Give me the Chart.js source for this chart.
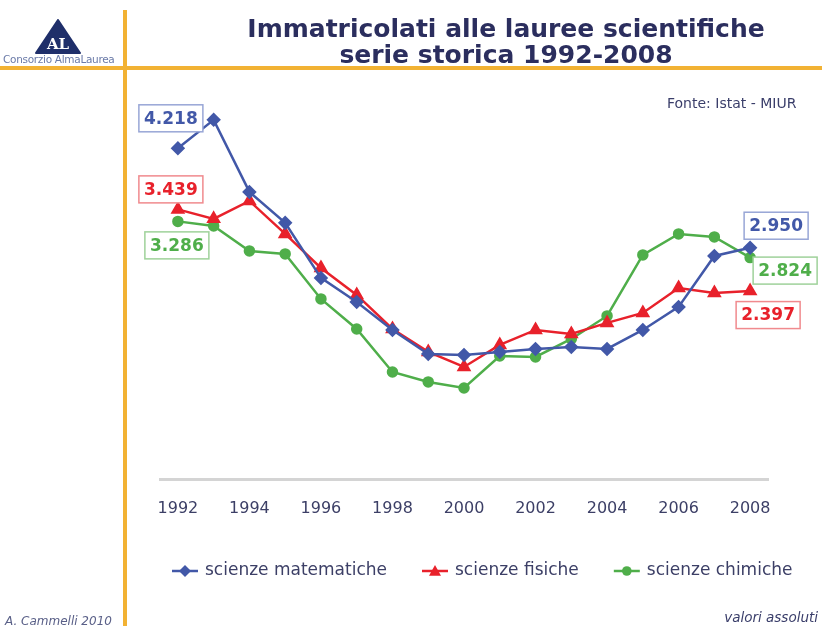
<!DOCTYPE html>
<html>
<head>
<meta charset="utf-8">
<script src="https://cdn.jsdelivr.net/npm/chart.js@4.4.0/dist/chart.umd.min.js"></script>
<style>
  html, body { margin: 0; padding: 0; background: #fff; }
  #wrap { position: relative; width: 822px; height: 626px; overflow: hidden; font-family: "DejaVu Sans", Verdana, sans-serif; }
  #chart { position: absolute; left: 0; top: 0; }
  .vline { position: absolute; left: 123px; top: 10px; width: 4px; height: 616px; background: #f2b233; }
  .hline { position: absolute; left: 0; top: 66px; width: 822px; height: 4px; background: #f2b233; }
  .title { position: absolute; left: 130px; width: 752px; top: 16px; text-align: center; color: #2b2e5e;
           font-weight: bold; font-size: 25px; line-height: 26px; }
  .src { position: absolute; left: 667px; top: 95px; font-size: 14px; color: #3a3e6a; }
  .foot-r { position: absolute; right: 4px; top: 609px; font-size: 13.5px; font-style: italic; color: #3a3e6a; }
  .foot-l { position: absolute; left: 5px; top: 614px; font-size: 12px; font-style: italic; color: #5a6088; }
  .logo-t { position: absolute; left: 3px; top: 53px; font-size: 10.5px; color: #6a7aa8; letter-spacing: -0.3px; }
  svg.logo { position: absolute; left: 35px; top: 19px; }
</style>
</head>
<body>
<div id="wrap">
  <canvas id="chart" width="822" height="626"></canvas>
  <div class="vline"></div>
  <div class="hline"></div>
  <svg class="logo" width="46" height="35" viewBox="0 0 46 35">
    <path d="M23 1 L45 34 L1 34 Z" fill="#1f2f6a" stroke="#1f2f6a" stroke-linejoin="round" stroke-width="2"/>
    <text x="23" y="30" text-anchor="middle" font-family="DejaVu Serif, serif" font-weight="bold" font-size="15" fill="#fff">AL</text>
  </svg>
  <div class="logo-t">Consorzio AlmaLaurea</div>
  <div class="title">Immatricolati alle lauree scientifiche<br>serie storica 1992-2008</div>
  <div class="src">Fonte: Istat - MIUR</div>
  <div class="foot-l">A. Cammelli 2010</div>
  <div class="foot-r">valori assoluti</div>
</div>
<script>
// ---------- Data ----------
const YEARS = ['1992','1993','1994','1995','1996','1997','1998','1999','2000','2001','2002','2003','2004','2005','2006','2007','2008'];
const MATEMATICHE = [4218,4581,3662,3267,2565,2259,1901,1595,1582,1621,1659,1684,1659,1901,2195,2845,2950];
const FISICHE     = [3439,3318,3547,3126,2692,2348,1914,1621,1429,1710,1901,1850,1991,2118,2437,2373,2397];
const CHIMICHE    = [3286,3228,2909,2871,2297,1914,1365,1238,1161,1569,1557,1786,2080,2858,3126,3088,2824];

const BLUE = '#4258a8', RED = '#e8212b', GREEN = '#4fae4a';
const TICK_COLOR = '#3c3f66';
const FONT = '"DejaVu Sans", Verdana, sans-serif';

// value boxes at first and last year
const VALUE_LABELS = [
  { ds: 0, idx: 0,  dx: -7, dy: -30, color: BLUE,  border: '#98a6d6' },
  { ds: 1, idx: 0,  dx: -7, dy: -20, color: RED,   border: '#f08a8e' },
  { ds: 2, idx: 0,  dx: -1, dy: 24,  color: GREEN, border: '#9fd29a' },
  { ds: 0, idx: 16, dx: 26, dy: -22, color: BLUE,  border: '#98a6d6' },
  { ds: 2, idx: 16, dx: 35, dy: 13,  color: GREEN, border: '#9fd29a' },
  { ds: 1, idx: 16, dx: 18, dy: 24,  color: RED,   border: '#f08a8e' }
];

const fmtIt = n => String(n).replace(/\B(?=(\d{3})+(?!\d))/g, '.');

function drawMarker(g, style, x, y, r) {
  g.beginPath();
  if (style === 'rectRot') { g.moveTo(x, y - r); g.lineTo(x + r, y); g.lineTo(x, y + r); g.lineTo(x - r, y); }
  else if (style === 'triangle') { g.moveTo(x, y - r); g.lineTo(x + r, y + r * 0.8); g.lineTo(x - r, y + r * 0.8); }
  else { g.arc(x, y, r * 0.8, 0, Math.PI * 2); }
  g.closePath(); g.fill();
}

const valueBoxes = {
  id: 'valueBoxes',
  afterDatasetsDraw(chart) {
    const ctx = chart.ctx;
    ctx.save();
    ctx.font = 'bold 17px ' + FONT;
    ctx.textAlign = 'center';
    ctx.textBaseline = 'middle';
    VALUE_LABELS.forEach(l => {
      const pt = chart.getDatasetMeta(l.ds).data[l.idx];
      const txt = fmtIt(chart.data.datasets[l.ds].data[l.idx]);
      const cx = pt.x + l.dx, cy = pt.y + l.dy;
      const w = 64, h = 27;
      ctx.fillStyle = '#fff';
      ctx.fillRect(cx - w / 2, cy - h / 2, w, h);
      ctx.strokeStyle = l.border; ctx.lineWidth = 1.5;
      ctx.strokeRect(cx - w / 2, cy - h / 2, w, h);
      ctx.fillStyle = l.color;
      ctx.fillText(txt, cx, cy + 1);
    });
    ctx.restore();
  }
};

// legend drawn by hand so it can be wider than the plot area
const wideLegend = {
  id: 'wideLegend',
  afterDraw(chart) {
    const ctx = chart.ctx;
    ctx.save();
    ctx.font = '17px ' + FONT;
    ctx.textBaseline = 'middle';
    let x = 172;
    const y = 571;
    chart.data.datasets.forEach(ds => {
      ctx.strokeStyle = ds.borderColor; ctx.lineWidth = 2.5;
      ctx.beginPath(); ctx.moveTo(x, y); ctx.lineTo(x + 26, y); ctx.stroke();
      ctx.fillStyle = ds.borderColor;
      drawMarker(ctx, ds.pointStyle, x + 13, y, 6);
      ctx.fillStyle = TICK_COLOR;
      ctx.fillText(ds.label, x + 33, y);
      x += 33 + ctx.measureText(ds.label).width + 35;
    });
    ctx.restore();
  }
};

new Chart(document.getElementById('chart'), {
  type: 'line',
  data: {
    labels: YEARS,
    datasets: [
      { label: 'scienze matematiche', data: MATEMATICHE, borderColor: BLUE, backgroundColor: BLUE,
        pointStyle: 'rectRot', pointRadius: 5.5, borderWidth: 2.5 },
      { label: 'scienze fisiche', data: FISICHE, borderColor: RED, backgroundColor: RED,
        pointStyle: 'triangle', pointRadius: 6, borderWidth: 2.5 },
      { label: 'scienze chimiche', data: CHIMICHE, borderColor: GREEN, backgroundColor: GREEN,
        pointStyle: 'circle', pointRadius: 4.5, borderWidth: 2.5 }
    ]
  },
  options: {
    responsive: false,
    animation: false,
    layout: { padding: { left: 160, right: 54, top: 87, bottom: 74 } },
    scales: {
      x: {
        offset: true,
        grid: { color: 'transparent', drawTicks: false },
        border: { display: true, color: '#d4d4d4', width: 3 },
        ticks: {
          color: TICK_COLOR, padding: 20, maxRotation: 0, autoSkip: false,
          font: { family: FONT, size: 16 },
          callback: (v, i) => (i % 2 === 0 ? YEARS[i] : '')
        },
        afterFit: s => { s.height = 73; }
      },
      y: { display: false, min: 0, max: 5000 }
    },
    plugins: {
      tooltip: { enabled: false },
      legend: { display: false }
    }
  },
  plugins: [valueBoxes, wideLegend]
});
</script>
</body>
</html>
